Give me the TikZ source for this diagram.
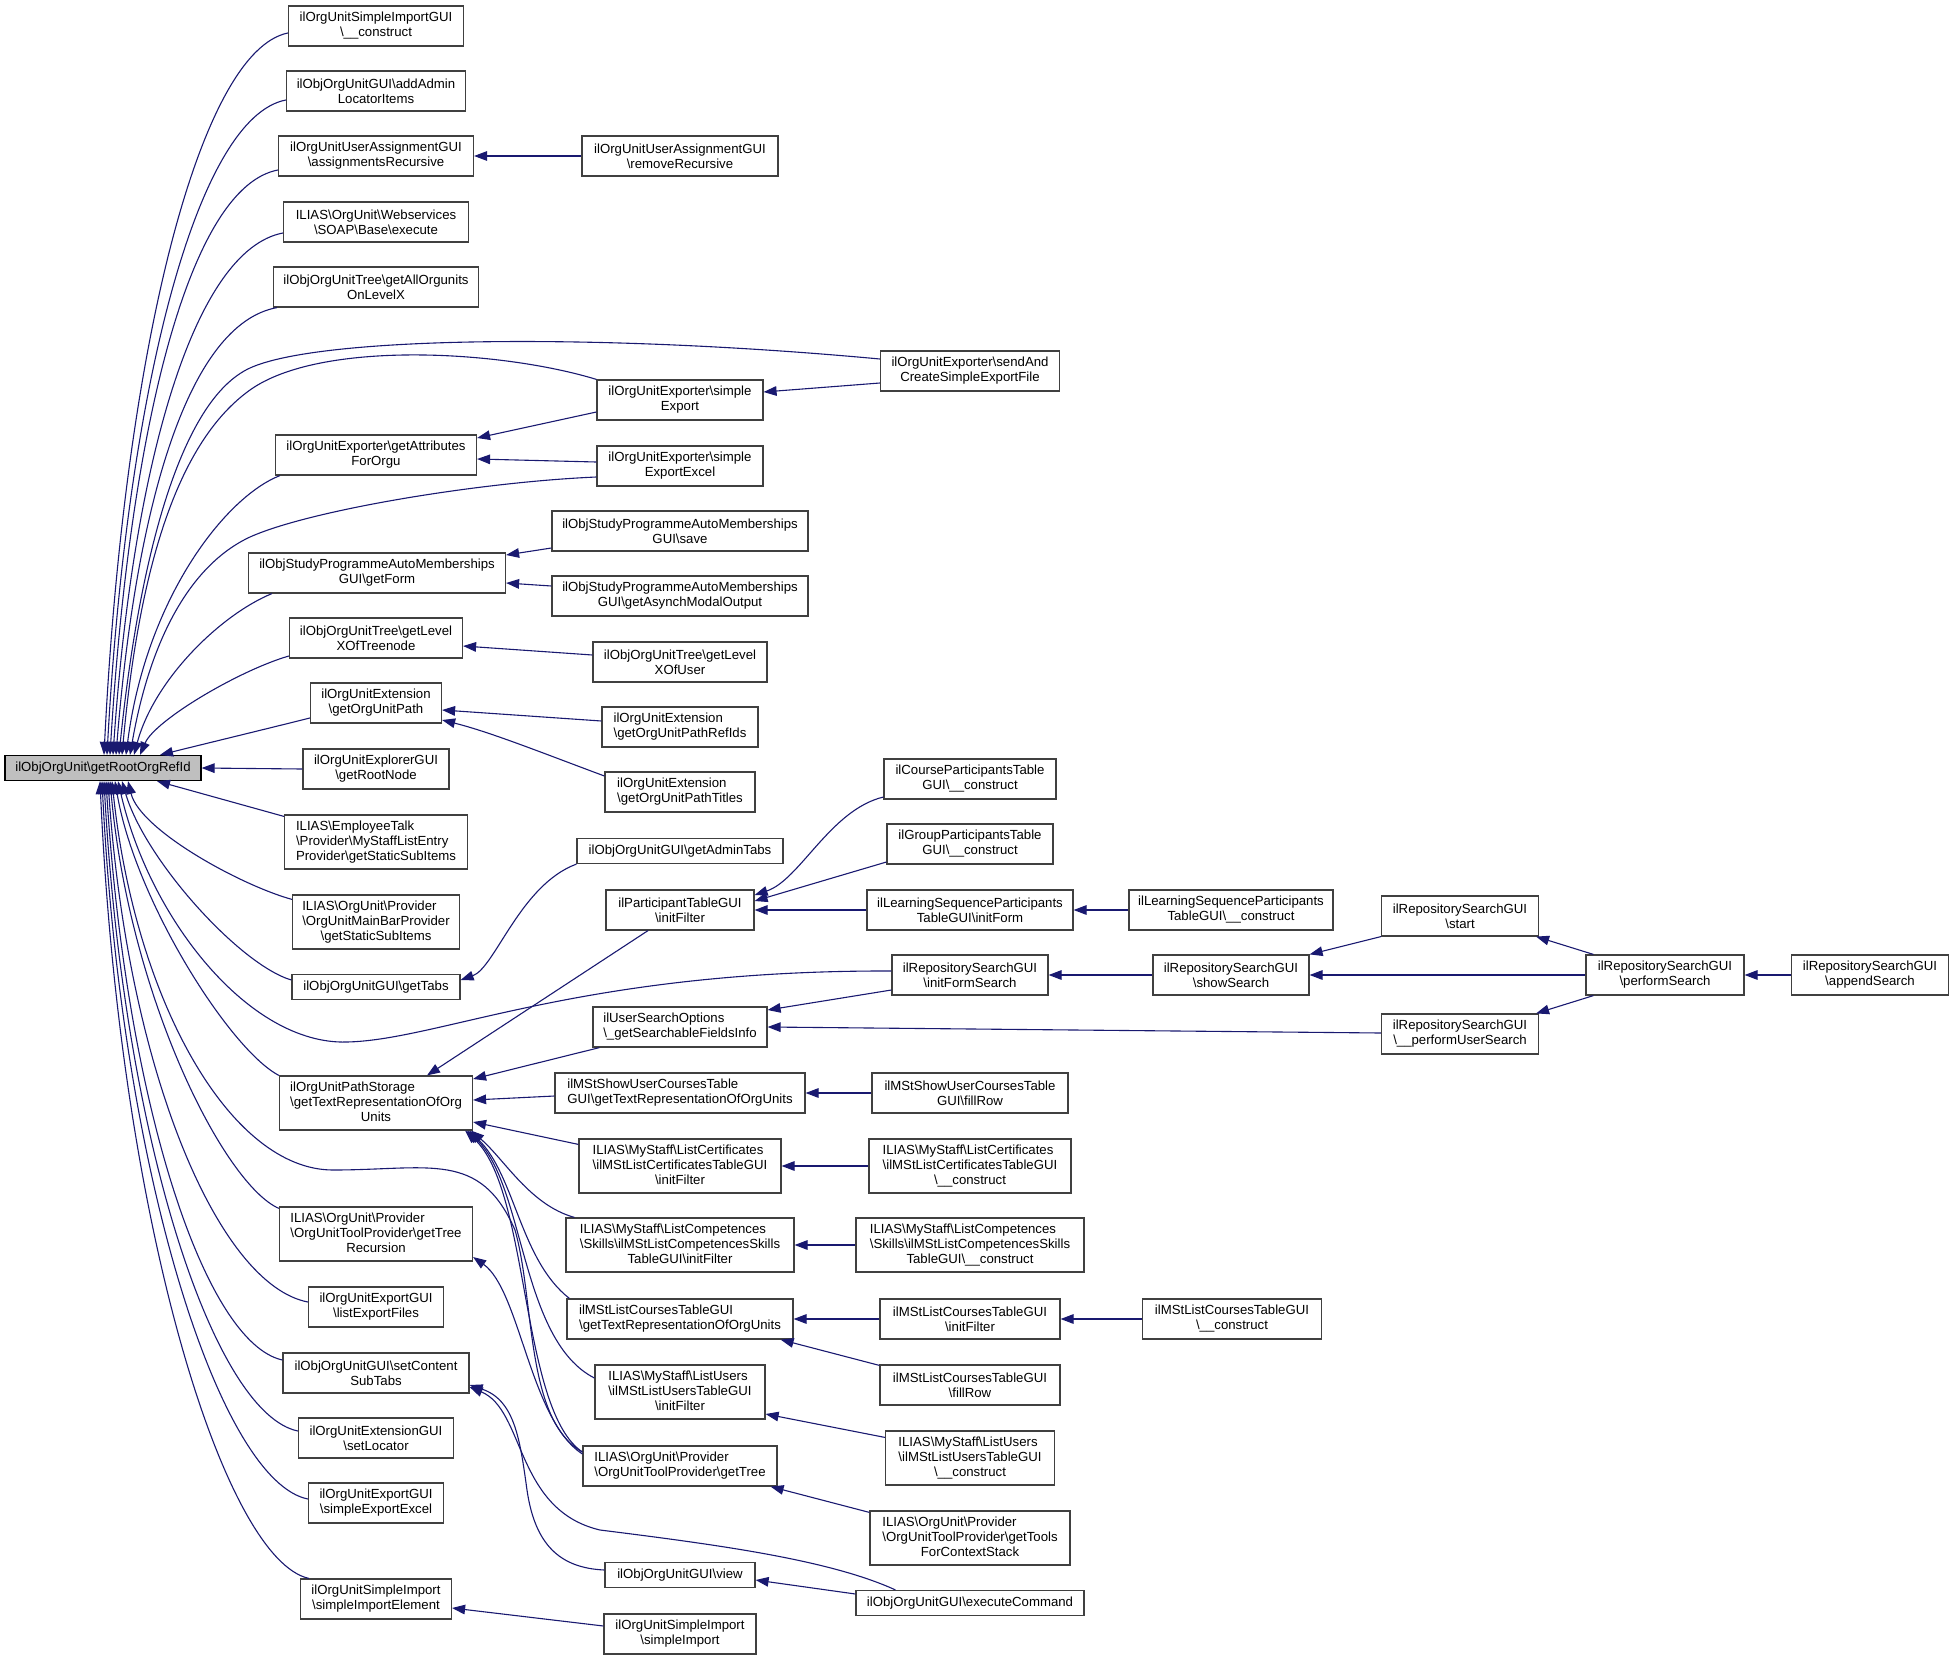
\documentclass[tikz,border=0pt]{standalone}
\usepackage{fontspec}
\setmainfont{Liberation Sans}
\usetikzlibrary{arrows.meta}
\usetikzlibrary{calc}
\definecolor{edgeblue}{HTML}{191970}
\definecolor{rootgray}{HTML}{BFBFBF}
\newcommand{\bsl}{\textbackslash}
\newcommand{\mixlines}[3]{\begin{tabular}{@{}l@{}}#1\\#2\\\multicolumn{1}{@{}c@{}}{#3}\end{tabular}}

\begin{document}
\begin{tikzpicture}[x=0.5pt, y=-0.5pt,
    fn/.style={draw=black!75, line width=0.6pt, inner sep=0pt, minimum height=20pt, font=\fontsize{6.6}{7.5}\selectfont, align=center},
    fnone/.style={fn, minimum height=12.5pt},
    fnthree/.style={fn, minimum height=27pt},
    call/.style={draw=edgeblue, line width=0.55pt, >={Triangle[length=6.5pt, width=4.8pt]}, <-}]

    \useasboundingbox (0,0) rectangle (1951,1660);

    \node[fnone, fill=rootgray, draw=black, minimum width=98pt] (root) at (103,768) {ilObjOrgUnit\bsl getRootOrgRefId};

    \node[fn, minimum width=87.5pt] (a1) at (376,26) {ilOrgUnitSimpleImportGUI\\\bsl\_\_construct};
    \node[fn, minimum width=89.5pt] (a2) at (376,91) {ilObjOrgUnitGUI\bsl addAdmin\\LocatorItems};
    \node[fn, minimum width=97.5pt] (a3) at (376,156) {ilOrgUnitUserAssignmentGUI\\\bsl assignmentsRecursive};
    \node[fn, minimum width=92.5pt] (a4) at (376,222) {ILIAS\bsl OrgUnit\bsl Webservices\\\bsl SOAP\bsl Base\bsl execute};
    \node[fn, minimum width=102.5pt] (a5) at (376,287) {ilObjOrgUnitTree\bsl getAllOrgunits\\OnLevelX};
    \node[fn, minimum width=100.5pt] (a6) at (376,455) {ilOrgUnitExporter\bsl getAttributes\\ForOrgu};
    \node[fn, minimum width=128.5pt] (a7) at (377,573) {ilObjStudyProgrammeAutoMemberships\\GUI\bsl getForm};
    \node[fn, minimum width=86.5pt] (a8) at (376,638) {ilObjOrgUnitTree\bsl getLevel\\XOfTreenode};
    \node[fn, minimum width=65.5pt] (a9) at (376,703) {ilOrgUnitExtension\\\bsl getOrgUnitPath};
    \node[fn, minimum width=73pt] (a10) at (376,769) {ilOrgUnitExplorerGUI\\\bsl getRootNode};
    \node[fnthree, minimum width=91.5pt, align=left] (a11) at (376,842) {ILIAS\bsl EmployeeTalk\\\bsl Provider\bsl MyStaffListEntry\\Provider\bsl getStaticSubItems};
    \node[fnthree, minimum width=83.5pt] (a12) at (376,922) {\mixlines{ILIAS\bsl OrgUnit\bsl Provider}{\bsl OrgUnitMainBarProvider}{\bsl getStaticSubItems}};
    \node[fnone, minimum width=84pt] (a14) at (376,987) {ilObjOrgUnitGUI\bsl getTabs};
    \node[fnthree, minimum width=96.5pt] (a13) at (376,1103) {\mixlines{ilOrgUnitPathStorage}{\bsl getTextRepresentationOfOrg}{Units}};
    \node[fnthree, minimum width=96.5pt] (a15) at (376,1234) {\mixlines{ILIAS\bsl OrgUnit\bsl Provider}{\bsl OrgUnitToolProvider\bsl getTree}{Recursion}};
    \node[fn, minimum width=67.5pt] (a16) at (376,1307) {ilOrgUnitExportGUI\\\bsl listExportFiles};
    \node[fn, minimum width=93pt] (a17) at (376,1373) {ilObjOrgUnitGUI\bsl setContent\\SubTabs};
    \node[fn, minimum width=77.5pt] (a18) at (376,1438) {ilOrgUnitExtensionGUI\\\bsl setLocator};
    \node[fn, minimum width=67.5pt] (a19) at (376,1503) {ilOrgUnitExportGUI\\\bsl simpleExportExcel};
    \node[fn, minimum width=75.5pt] (a20) at (376,1599) {ilOrgUnitSimpleImport\\\bsl simpleImportElement};

    \node[fn, minimum width=98pt] (b1) at (680,156) {ilOrgUnitUserAssignmentGUI\\\bsl removeRecursive};
    \node[fn, minimum width=89.5pt] (b2) at (970,371) {ilOrgUnitExporter\bsl sendAnd\\CreateSimpleExportFile};
    \node[fn, minimum width=83pt] (b3) at (680,400) {ilOrgUnitExporter\bsl simple\\Export};
    \node[fn, minimum width=83pt] (b4) at (680,466) {ilOrgUnitExporter\bsl simple\\ExportExcel};
    \node[fn, minimum width=128pt] (b5) at (680,531) {ilObjStudyProgrammeAutoMemberships\\GUI\bsl save};
    \node[fn, minimum width=128pt] (b6) at (680,596) {ilObjStudyProgrammeAutoMemberships\\GUI\bsl getAsynchModalOutput};
    \node[fn, minimum width=87pt] (b7) at (680,662) {ilObjOrgUnitTree\bsl getLevel\\XOfUser};
    \node[fn, minimum width=78pt, align=left] (b8) at (680,727) {ilOrgUnitExtension\\\bsl getOrgUnitPathRefIds};
    \node[fn, minimum width=75pt, align=left] (b9) at (680,792) {ilOrgUnitExtension\\\bsl getOrgUnitPathTitles};
    \node[fnone, minimum width=103pt] (b10) at (680,851) {ilObjOrgUnitGUI\bsl getAdminTabs};
    \node[fn, minimum width=74pt] (b11) at (680,910) {ilParticipantTableGUI\\\bsl initFilter};
    \node[fn, minimum width=87pt, align=left] (b12) at (680,1027) {ilUserSearchOptions\\\bsl\_getSearchableFieldsInfo};
    \node[fn, minimum width=125pt, align=left] (b13) at (680,1093) {ilMStShowUserCoursesTable\\GUI\bsl getTextRepresentationOfOrgUnits};
    \node[fnthree, minimum width=101pt] (b14) at (680,1166) {\mixlines{ILIAS\bsl MyStaff\bsl ListCertificates}{\bsl ilMStListCertificatesTableGUI}{\bsl initFilter}};
    \node[fnthree, minimum width=114pt] (b15) at (680,1245) {\mixlines{ILIAS\bsl MyStaff\bsl ListCompetences}{\bsl Skills\bsl ilMStListCompetencesSkills}{TableGUI\bsl initFilter}};
    \node[fn, minimum width=113pt, align=left] (b16) at (680,1319) {ilMStListCoursesTableGUI\\\bsl getTextRepresentationOfOrgUnits};
    \node[fnthree, minimum width=85pt] (b17) at (680,1392) {\mixlines{ILIAS\bsl MyStaff\bsl ListUsers}{\bsl ilMStListUsersTableGUI}{\bsl initFilter}};
    \node[fn, minimum width=97pt, align=left] (b18) at (680,1466) {ILIAS\bsl OrgUnit\bsl Provider\\\bsl OrgUnitToolProvider\bsl getTree};
    \node[fnone, minimum width=75pt] (b19) at (680,1575) {ilObjOrgUnitGUI\bsl view};
    \node[fn, minimum width=76pt] (b20) at (680,1634) {ilOrgUnitSimpleImport\\\bsl simpleImport};

    \node[fn, minimum width=86pt] (c1) at (970,779) {ilCourseParticipantsTable\\GUI\bsl\_\_construct};
    \node[fn, minimum width=83pt] (c2) at (970,844) {ilGroupParticipantsTable\\GUI\bsl\_\_construct};
    \node[fn, minimum width=103pt] (c3) at (970,910) {ilLearningSequenceParticipants\\TableGUI\bsl initForm};
    \node[fn, minimum width=78pt] (c4) at (970,975) {ilRepositorySearchGUI\\\bsl initFormSearch};
    \node[fn, minimum width=98pt] (c5) at (970,1093) {ilMStShowUserCoursesTable\\GUI\bsl fillRow};
    \node[fnthree, minimum width=101pt] (c6) at (970,1166) {\mixlines{ILIAS\bsl MyStaff\bsl ListCertificates}{\bsl ilMStListCertificatesTableGUI}{\bsl\_\_construct}};
    \node[fnthree, minimum width=114pt] (c7) at (970,1245) {\mixlines{ILIAS\bsl MyStaff\bsl ListCompetences}{\bsl Skills\bsl ilMStListCompetencesSkills}{TableGUI\bsl\_\_construct}};
    \node[fn, minimum width=90pt] (c8) at (970,1319) {ilMStListCoursesTableGUI\\\bsl initFilter};
    \node[fn, minimum width=90pt] (c9) at (970,1385) {ilMStListCoursesTableGUI\\\bsl fillRow};
    \node[fnthree, minimum width=84.5pt] (c10) at (970,1458) {\mixlines{ILIAS\bsl MyStaff\bsl ListUsers}{\bsl ilMStListUsersTableGUI}{\bsl\_\_construct}};
    \node[fnthree, minimum width=100pt] (c11) at (970,1538) {\mixlines{ILIAS\bsl OrgUnit\bsl Provider}{\bsl OrgUnitToolProvider\bsl getTools}{ForContextStack}};
    \node[fnone, minimum width=114pt] (c12) at (970,1603) {ilObjOrgUnitGUI\bsl executeCommand};

    \node[fn, minimum width=102pt] (d1) at (1231,910) {ilLearningSequenceParticipants\\TableGUI\bsl\_\_construct};
    \node[fn, minimum width=78pt] (d2) at (1231,975) {ilRepositorySearchGUI\\\bsl showSearch};
    \node[fn, minimum width=89.5pt] (d3) at (1232,1319) {ilMStListCoursesTableGUI\\\bsl\_\_construct};

    \node[fn, minimum width=78.5pt] (e1) at (1460,916) {ilRepositorySearchGUI\\\bsl start};
    \node[fn, minimum width=78.5pt] (e2) at (1460,1034) {ilRepositorySearchGUI\\\bsl\_\_performUserSearch};
    \node[fn, minimum width=79pt] (f1) at (1665,975) {ilRepositorySearchGUI\\\bsl performSearch};
    \node[fn, minimum width=78.5pt] (f2) at (1870,975) {ilRepositorySearchGUI\\\bsl appendSearch};

    \draw[call] ($(root.north)+(1,0)$) .. controls (124,352) and (199,51) .. ($(a1.west)+(0,7)$);
    \draw[call] ($(root.north)+(4,0)$) .. controls (127,389) and (197,117) .. ($(a2.west)+(0,9)$);
    \draw[call] ($(root.north)+(7,0)$) .. controls (130,428) and (189,187) .. ($(a3.west)+(0,14)$);
    \draw[call] ($(root.north)+(10,0)$) .. controls (133,463) and (194,250) .. ($(a4.west)+(0,11)$);
    \draw[call] ($(root.north)+(13,0)$) .. controls (136,505) and (188,324) .. ($(a5.south west)+(4,0)$);
    \draw[call] ($(root.north)+(16,0)$) .. controls (139,560) and (180,400) .. (250,368) .. controls (320,336) and (600,333) .. ($(b2.west)+(0,-12)$);
    \draw[call] ($(root.north)+(19,0)$) .. controls (140,560) and (180,440) .. (250,390) .. controls (320,340) and (500,350) .. (b3.north west);
    \draw[call] ($(root.north)+(23,0)$) .. controls (146,599) and (225,497) .. ($(a6.south west)+(5,0)$);
    \draw[call] ($(root.north)+(27,0)$) .. controls (150,640) and (190,565) .. (250,537) .. controls (310,510) and (480,482) .. ($(b4.west)+(0,11)$);
    \draw[call] ($(root.north)+(31,0)$) .. controls (154,680) and (220,615) .. ($(a7.south west)+(24,0)$);
    \draw[call] ($(root.north)+(37,0)$) .. controls (155,720) and (240,670) .. ($(a8.west)+(0,18)$);
    \draw[call] ($(root.north)+(57,0)$) .. controls (200,745) and (270,728) .. ($(a9.west)+(0,15)$);
    \draw[call] (root.east) -- (a10.west);
    \draw[call] ($(root.south)+(54,0)$) -- ($(a11.north west)+(0,2)$);
    \draw[call] ($(root.south)+(25,0)$) .. controls (140,830) and (240,885) .. ($(a12.north west)+(0,5)$);
    \draw[call] ($(root.south)+(19,0)$) .. controls (145,860) and (240,965) .. ($(a14.west)+(0,-7)$);
    \draw[call] ($(root.south)+(15,0)$) .. controls (150,920) and (250,1045) .. (347,1042) .. controls (440,1040) and (580,970) .. ($(c4.west)+(0,-4)$);
    \draw[call] ($(root.south)+(12,0)$) .. controls (135,900) and (230,1050) .. (a13.north west);
    \draw[call] ($(root.south)+(9,0)$) .. controls (135,1000) and (230,1170) .. (333,1170) .. controls (430,1170) and (480,1150) .. (515,1230) .. controls (535,1300) and (525,1420) .. ($(b18.west)+(0,-14)$);
    \draw[call] ($(root.south)+(7,0)$) .. controls (130,1000) and (225,1185) .. ($(a15.north west)+(0,2)$);
    \draw[call] ($(root.south)+(5,0)$) .. controls (128,1073) and (219,1285) .. ($(a16.west)+(0,-5)$);
    \draw[call] ($(root.south)+(3,0)$) .. controls (126,1105) and (205,1343) .. ($(a17.west)+(0,-13)$);
    \draw[call] ($(root.south)+(1,0)$) .. controls (124,1145) and (215,1414) .. ($(a18.west)+(0,-7)$);
    \draw[call] ($(root.south)+(-1,0)$) .. controls (122,1183) and (222,1482) .. ($(a19.west)+(0,-4)$);
    \draw[call] ($(root.south)+(-3,0)$) .. controls (120,1228) and (225,1560) .. ($(a20.north west)+(9,0)$);

    \draw[call] (a3.east) -- (b1.west);
    \draw[call] ($(a6.east)+(0,-17)$) -- ($(b3.west)+(0,12)$);
    \draw[call] ($(a6.east)+(0,4)$) -- ($(b4.west)+(0,-4)$);
    \draw[call] ($(b3.east)+(0,-8)$) -- ($(b2.west)+(0,12)$);
    \draw[call] ($(a7.east)+(0,-18)$) -- ($(b5.west)+(0,17)$);
    \draw[call] ($(a7.east)+(0,10)$) -- ($(b6.west)+(0,-10)$);
    \draw[call] ($(a8.east)+(0,8)$) -- ($(b7.west)+(0,-7)$);
    \draw[call] ($(a9.east)+(0,7)$) -- ($(b8.west)+(0,-6)$);
    \draw[call] ($(a9.east)+(0,17)$) .. controls (490,732) and (540,752) .. ($(b9.west)+(0,-16)$);
    \draw[call] ($(a14.east)+(0,-7)$) .. controls (495,968) and (520,885) .. (b10.south west);
    \draw[call] ($(a13.north)+(51,0)$) -- ($(b11.south)+(-32,0)$);
    \draw[call] ($(b11.east)+(0,-15)$) .. controls (800,880) and (830,810) .. ($(c1.west)+(0,18)$);
    \draw[call] ($(b11.east)+(0,-9)$) -- ($(c2.west)+(0,18)$);
    \draw[call] (b11.east) -- (c3.west);
    \draw[call] (c3.east) -- (d1.west);
    \draw[call] ($(a13.east)+(0,-24)$) -- ($(b12.south west)+(7,0)$);
    \draw[call] ($(a13.east)+(0,-3)$) -- ($(b13.west)+(0,3)$);
    \draw[call] (b13.east) -- (c5.west);
    \draw[call] ($(a13.east)+(0,19)$) -- ($(b14.north west)+(0,6)$);
    \draw[call] (b14.east) -- (c6.west);
    \draw[call] ($(a13.south east)+(-2,0)$) .. controls (505,1160) and (530,1205) .. ($(b15.north west)+(9,0)$);
    \draw[call] ($(a13.south east)+(-4,0)$) .. controls (515,1175) and (520,1260) .. ($(b16.north west)+(3,0)$);
    \draw[call] ($(a13.south east)+(-6,0)$) .. controls (525,1185) and (520,1340) .. ($(b17.west)+(0,-14)$);
    \draw[call] ($(a13.south east)+(-8,0)$) .. controls (530,1190) and (520,1410) .. ($(b18.west)+(0,-14)$);
    \draw[call] (b15.east) -- (c7.west);
    \draw[call] (b16.east) -- (c8.west);
    \draw[call] (c8.east) -- (d3.west);
    \draw[call] ($(b16.south east)+(-13,0)$) -- ($(c9.north west)+(0,1)$);
    \draw[call] ($(b17.east)+(0,22)$) -- ($(c10.north west)+(0,7)$);
    \draw[call] ($(b18.south east)+(-7,0)$) -- ($(c11.north west)+(0,2)$);
    \draw[call] ($(a15.east)+(0,23)$) .. controls (520,1290) and (530,1420) .. ($(b18.west)+(0,-12)$);
    \draw[call] ($(a17.east)+(0,12)$) .. controls (515,1400) and (520,1440) .. (527,1490) .. controls (535,1545) and (560,1568) .. ($(b19.west)+(0,-5)$);
    \draw[call] ($(a17.east)+(0,14)$) .. controls (525,1410) and (515,1510) .. (600,1530) .. controls (720,1545) and (830,1560) .. ($(c12.north west)+(40,0)$);
    \draw[call] ($(b19.east)+(0,5)$) -- ($(c12.west)+(0,-9)$);
    \draw[call] ($(a20.east)+(0,9)$) -- ($(b20.west)+(0,-8)$);
    \draw[call] (c4.east) -- (d2.west);
    \draw[call] ($(b12.east)+(0,-17)$) -- ($(c4.west)+(0,15)$);
    \draw[call] (b12.east) -- ($(e2.west)+(0,-1)$);
    \draw[call] (d2.north east) -- (e1.south west);
    \draw[call] (d2.east) -- (f1.west);
    \draw[call] ($(e1.south east)+(-3,0)$) -- ($(f1.north west)+(8,0)$);
    \draw[call] ($(e2.north east)+(-3,0)$) -- ($(f1.south west)+(8,0)$);
    \draw[call] (f1.east) -- (f2.west);

\end{tikzpicture}
\end{document}
